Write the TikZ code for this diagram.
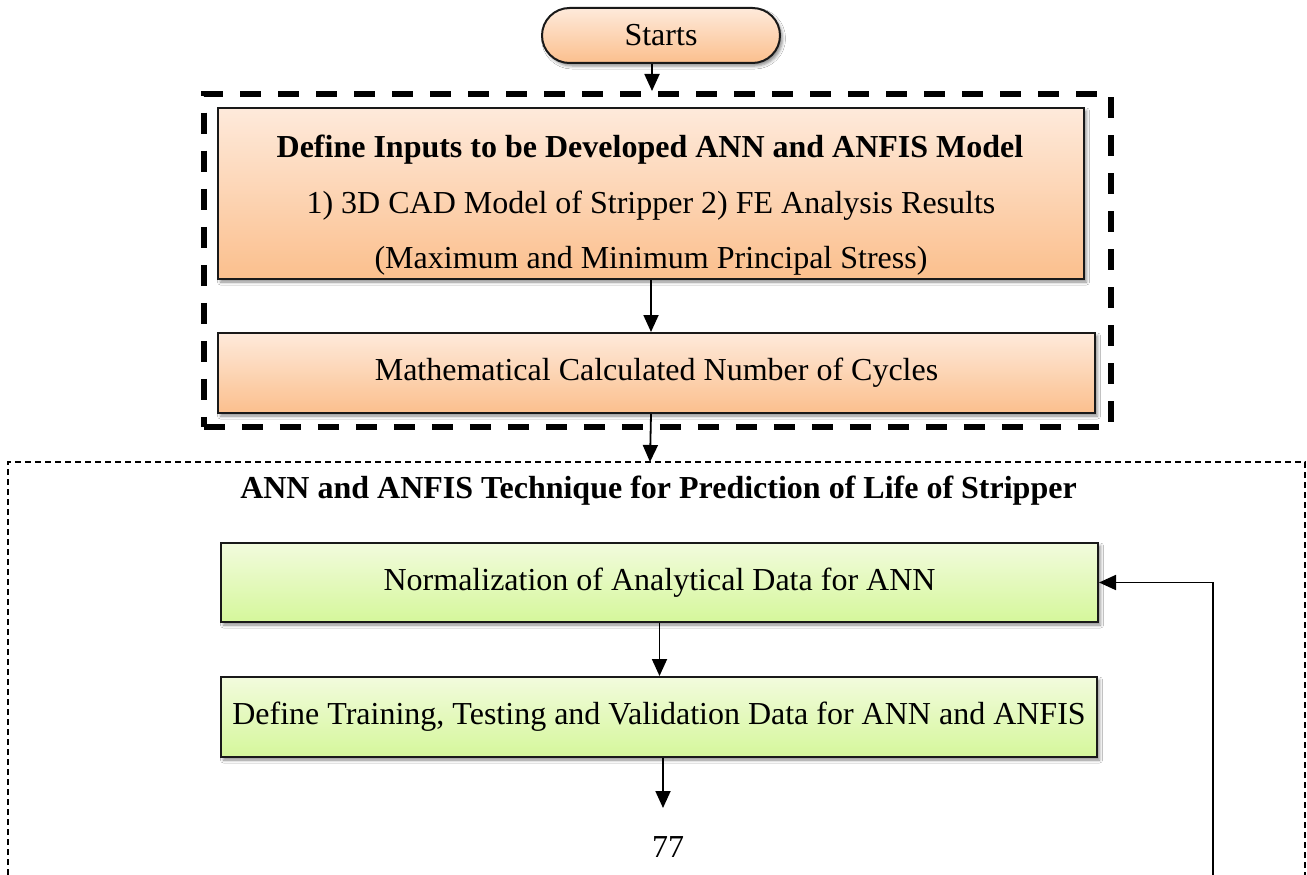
\documentclass[tikz,border=0pt]{standalone}
\usepackage{fontspec}
\setmainfont{Liberation Serif}
\usetikzlibrary{arrows.meta,shadows.blur}
\definecolor{orTop}{HTML}{FEEADB}
\definecolor{orBot}{HTML}{FBBF8D}
\definecolor{grTop}{HTML}{F2FBDD}
\definecolor{grBot}{HTML}{D5F79B}
\tikzset{
  every node/.style={font=\fontsize{32}{38}\selectfont},
  shadowed/.style={blur shadow={shadow xshift=2.5pt, shadow yshift=-3pt, shadow blur radius=3pt, shadow opacity=45}},
  box/.style={draw=black!90, line width=2pt, inner sep=0pt, anchor=north west, shadowed},
  orangefill/.style={top color=orTop, bottom color=orBot},
  greenfill/.style={top color=grTop, bottom color=grBot},
  arr/.style={line width=1.8pt, -{Triangle[length=17pt,width=15pt]}},
  thickdash/.style={line width=5.5pt, dash pattern=on 21pt off 17pt},
  thindash/.style={line width=1.5pt, dash pattern=on 6pt off 4pt},
  txt/.style={anchor=base, inner sep=0pt},
  boldtxt/.style={txt, font=\fontsize{32}{38}\selectfont\bfseries},
}
\begin{document}
\begin{tikzpicture}[x=1pt,y=-1pt]
\path[use as bounding box, fill=white] (0,0) rectangle (1307,875);

% start
\node[draw=black!90, line width=2pt, orangefill, shadowed, rounded corners=27.5pt,
      minimum width=238pt, minimum height=55pt, inner sep=0pt] (start) at (661,35.5) {Starts};

% thick dashed group
\node[thickdash, draw, anchor=north west, minimum width=907pt, minimum height=333pt, inner sep=0pt] (grp) at (201,91) {};

% input box
\node[box, orangefill, minimum width=866pt, minimum height=171pt] (inp) at (217,107) {};
\node[boldtxt] (inpA) at (650,157) {Define Inputs to be Developed ANN and ANFIS Model};
\node[txt] (inpB) at (651,213) {1) 3D CAD Model of Stripper 2) FE Analysis Results};
\node[txt] (inpC) at (651,268) {(Maximum and Minimum Principal Stress)};

% calc box
\node[box, orangefill, minimum width=877pt, minimum height=80pt] (calc) at (217,332) {Mathematical Calculated Number of Cycles};

% outer dashed region
\coordinate (outTop) at (650,462);
\draw[thindash] (8,875) -- (8,462) -- (1305,462) -- (1305,875);

\node[boldtxt] (title) at (658.5,498) {ANN and ANFIS Technique for Prediction of Life of Stripper};

% green boxes
\node[box, greenfill, minimum width=877pt, minimum height=79pt] (norm) at (220,542) {Normalization of Analytical Data for ANN};
\node[box, greenfill, minimum width=876pt, minimum height=80pt] (train) at (220,676) {Define Training, Testing and Validation Data for ANN and ANFIS};

\coordinate (trainEnd) at (663,808);
\node[txt] (page) at (668,857) {77};
\coordinate (fbStart) at (1213,875);

% connectors
\draw[arr] ([xshift=-9pt]start.south) -- ([xshift=-9pt]start.south |- grp.north);
\draw[arr] (inp.south) -- (inp.south |- calc.north);
\draw[arr] (calc.south -| inp.south) -- (outTop);
\draw[arr] (norm.south) -- (norm.south |- train.north);
\draw[arr] (train.south -| trainEnd) -- (trainEnd);
\draw[arr] (fbStart) |- (norm.east);
\end{tikzpicture}
\end{document}
